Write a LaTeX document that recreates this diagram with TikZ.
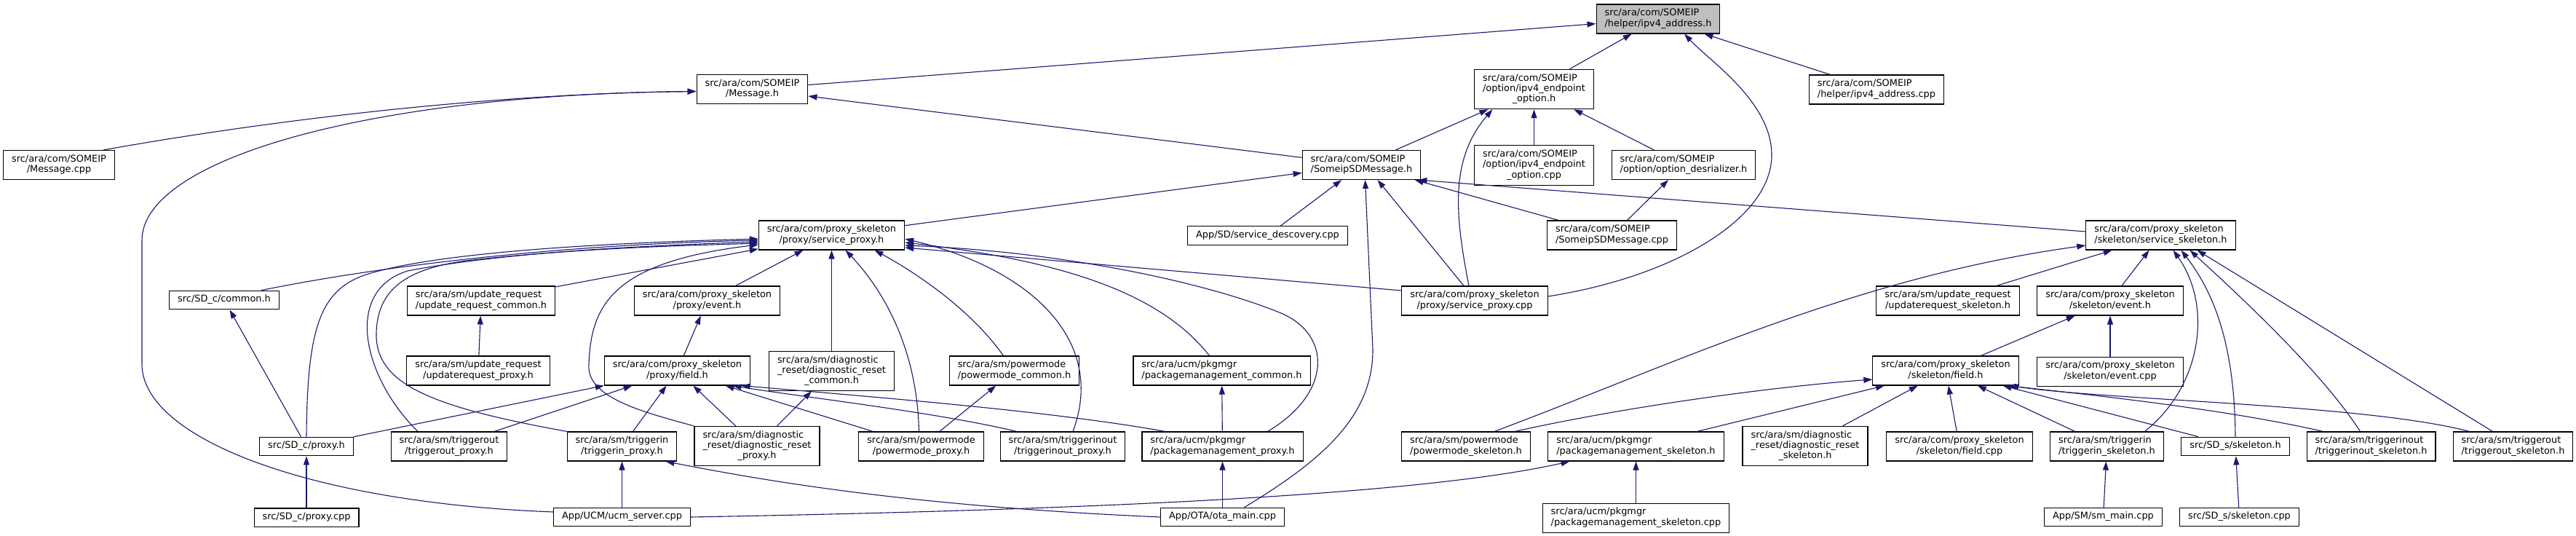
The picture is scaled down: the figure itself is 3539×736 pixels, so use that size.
\documentclass[tikz,border=0pt]{standalone}
\usepackage{fontspec}
\usepackage{tikz}
\usetikzlibrary{positioning,arrows.meta}
\newfontfamily\doxsans{DejaVu Sans}
\newcommand{\doxfont}{\doxsans\fontsize{12.9}{14.3}\selectfont}
\newcommand{\lbl}[2]{\begin{tabular}{@{}l@{}}#1\\\multicolumn{1}{@{}c@{}}{#2}\end{tabular}}
\newcommand{\one}[1]{\begin{tabular}{@{}c@{}}#1\end{tabular}}
\definecolor{edgeblue}{HTML}{191970}
\definecolor{rootgray}{HTML}{BFBFBF}

\begin{document}
\begin{tikzpicture}[x=1pt, y=-1pt, >={Triangle[length=12pt,width=8pt]},
                    hdr/.style={draw=black, line width=1.1pt, fill=white, inner xsep=11.5pt, inner ysep=5.7pt, font=\doxfont},
                    root/.style={hdr, fill=rootgray},
                    dep/.style={->, draw=edgeblue, line width=1.1pt}]
\useasboundingbox[fill=white] (0,0) rectangle (3539,736);
\node[root] (ipv4h) at (2278,26) {\lbl{src/ara/com/SOMEIP}{/helper/ipv4\_address.h}};
\node[hdr] (msgh) at (1033.5,122.5) {\lbl{src/ara/com/SOMEIP}{/Message.h}};
\node[hdr] (epoh) at (2107.5,122.5) {\lbl{src/ara/com/SOMEIP\\/option/ipv4\_endpoint}{\_option.h}};
\node[hdr] (ipv4cpp) at (2578,123) {\lbl{src/ara/com/SOMEIP}{/helper/ipv4\_address.cpp}};
\node[hdr] (msgcpp) at (81,226.5) {\lbl{src/ara/com/SOMEIP}{/Message.cpp}};
\node[hdr] (sdmh) at (1870.5,226.5) {\lbl{src/ara/com/SOMEIP}{/SomeipSDMessage.h}};
\node[hdr, below=49pt of epoh] (epocpp) {\lbl{src/ara/com/SOMEIP\\/option/ipv4\_endpoint}{\_option.cpp}};
\node[hdr] (optdes) at (2313,226.5) {\lbl{src/ara/com/SOMEIP}{/option/option\_desrializer.h}};
\node[hdr] (sprh) at (1142.5,323) {\lbl{src/ara/com/proxy\_skeleton}{/proxy/service\_proxy.h}};
\node[hdr] (sdisc) at (1741.5,323.5) {\one{App/SD/service\_descovery.cpp}};
\node[hdr] (sdmcpp) at (2214.5,323) {\lbl{src/ara/com/SOMEIP}{/SomeipSDMessage.cpp}};
\node[hdr] (sskh) at (2968.5,323) {\lbl{src/ara/com/proxy\_skeleton}{/skeleton/service\_skeleton.h}};
\node[hdr] (sdcommon) at (308,412) {\one{src/SD\_c/common.h}};
\node[hdr] (urcommon) at (661,413) {\lbl{src/ara/sm/update\_request}{/update\_request\_common.h}};
\node[hdr] (pevent) at (971.5,413) {\lbl{src/ara/com/proxy\_skeleton}{/proxy/event.h}};
\node[hdr] (sprcpp) at (2026,413) {\lbl{src/ara/com/proxy\_skeleton}{/proxy/service\_proxy.cpp}};
\node[hdr] (urskel) at (2676,413) {\lbl{src/ara/sm/update\_request}{/updaterequest\_skeleton.h}};
\node[hdr] (sevent) at (2899,413) {\lbl{src/ara/com/proxy\_skeleton}{/skeleton/event.h}};
\node[hdr] (urproxy) at (657,509) {\lbl{src/ara/sm/update\_request}{/updaterequest\_proxy.h}};
\node[hdr] (pfield) at (930.5,509) {\lbl{src/ara/com/proxy\_skeleton}{/proxy/field.h}};
\node[hdr] (drcommon) at (1142.5,509.5) {\lbl{src/ara/sm/diagnostic\\\_reset/diagnostic\_reset}{\_common.h}};
\node[hdr] (pmcommon) at (1393.5,509) {\lbl{src/ara/sm/powermode}{/powermode\_common.h}};
\node[hdr] (pkgcommon) at (1678.5,509) {\lbl{src/ara/ucm/pkgmgr}{/packagemanagement\_common.h}};
\node[hdr] (sfield) at (2673,509) {\lbl{src/ara/com/proxy\_skeleton}{/skeleton/field.h}};
\node[hdr, below=56pt of sevent] (seventcpp) {\lbl{src/ara/com/proxy\_skeleton}{/skeleton/event.cpp}};
\node[hdr] (sdcproxy) at (421,613) {\one{src/SD\_c/proxy.h}};
\node[hdr] (trgoutp) at (617,613) {\lbl{src/ara/sm/triggerout}{/triggerout\_proxy.h}};
\node[hdr] (trginp) at (854.5,613) {\lbl{src/ara/sm/triggerin}{/triggerin\_proxy.h}};
\node[hdr] (drproxy) at (1040,612.5) {\lbl{src/ara/sm/diagnostic\\\_reset/diagnostic\_reset}{\_proxy.h}};
\node[hdr] (pmproxy) at (1265.5,613) {\lbl{src/ara/sm/powermode}{/powermode\_proxy.h}};
\node[hdr] (trginoutp) at (1460,613) {\lbl{src/ara/sm/triggerinout}{/triggerinout\_proxy.h}};
\node[hdr] (pkgproxy) at (1679.5,613) {\lbl{src/ara/ucm/pkgmgr}{/packagemanagement\_proxy.h}};
\node[hdr] (pmskel) at (2014,613) {\lbl{src/ara/sm/powermode}{/powermode\_skeleton.h}};
\node[hdr] (pkgskel) at (2247.5,613) {\lbl{src/ara/ucm/pkgmgr}{/packagemanagement\_skeleton.h}};
\node[hdr] (drskel) at (2480,612.5) {\lbl{src/ara/sm/diagnostic\\\_reset/diagnostic\_reset}{\_skeleton.h}};
\node[hdr] (sfieldcpp) at (2692,613) {\lbl{src/ara/com/proxy\_skeleton}{/skeleton/field.cpp}};
\node[hdr] (trgins) at (2894.5,613) {\lbl{src/ara/sm/triggerin}{/triggerin\_skeleton.h}};
\node[hdr] (sdsskel) at (3071,613) {\one{src/SD\_s/skeleton.h}};
\node[hdr] (trginouts) at (3257.5,613) {\lbl{src/ara/sm/triggerinout}{/triggerinout\_skeleton.h}};
\node[hdr] (trgouts) at (3452.5,613) {\lbl{src/ara/sm/triggerout}{/triggerout\_skeleton.h}};
\node[hdr, below=71pt of sdcproxy] (sdcproxycpp) {\one{src/SD\_c/proxy.cpp}};
\node[hdr] (ucm) at (854.5,710) {\one{App/UCM/ucm\_server.cpp}};
\node[hdr] (ota) at (1679.5,710) {\one{App/OTA/ota\_main.cpp}};
\node[hdr, below=57pt of pkgskel] (pkgskelcpp) {\lbl{src/ara/ucm/pkgmgr}{/packagemanagement\_skeleton.cpp}};
\node[hdr] (smmain) at (2889.5,710) {\one{App/SM/sm\_main.cpp}};
\node[hdr] (sdsskelcpp) at (3076.5,710) {\one{src/SD\_s/skeleton.cpp}};
% upper part
\draw[dep] (msgh) -- (ipv4h);
\draw[dep] ([xshift=61pt]msgcpp.north) .. controls (400,160) and (700,128) .. ([yshift=-3pt]msgh.west);
\draw[dep] ([yshift=7pt]ucm.west) .. controls (420,690) and (195,600) .. (195,500) -- (195,330) .. controls (195,220) and (500,130) .. ([yshift=-3pt]msgh.west);
\draw[dep] (sdmh) -- (msgh);
\draw[dep] (epoh) -- (ipv4h);
\draw[dep] (ipv4cpp) -- (ipv4h);
\draw[dep] ([yshift=6pt]sprcpp.east) .. controls (2300,380) and (2434,300) .. (2434,213) .. controls (2434,140) and (2350,85) .. ([xshift=36pt]ipv4h.south);
\draw[dep] (sdmh) -- (epoh);
\draw[dep] ([xshift=-8pt]sprcpp.north) .. controls (2000,300) and (1990,220) .. ([xshift=-57pt]epoh.south);
\draw[dep] (epocpp) -- (epoh);
\draw[dep] (optdes) -- (epoh);
\draw[dep] (sdmcpp) -- (optdes);
\draw[dep] (sdmcpp) -- (sdmh);
\draw[dep] ([yshift=5pt]sskh.west) -- ([xshift=-4pt]sdmh.south east);
\draw[dep] (sdisc) -- (sdmh);
\draw[dep] (sprh) -- (sdmh);
\draw[dep] ([xshift=-15pt]sprcpp.north) -- ([xshift=22pt]sdmh.south);
\draw[dep] ([xshift=30pt]ota.north) .. controls (1820,630) and (1886,570) .. (1886,480) -- ([xshift=5pt]sdmh.south);
% into service_proxy.h
\draw[dep] ([xshift=51pt]sdcommon.north) .. controls (550,360) and (800,335) .. ([yshift=-7pt]sprh.west);
\draw[dep] (sdcproxy.north) .. controls (422,450) and (440,400) .. (500,378) .. controls (600,345) and (850,333) .. ([yshift=-5pt]sprh.west);
\draw[dep] ([xshift=-43pt]trgoutp.north) .. controls (500,520) and (470,400) .. (560,372) .. controls (700,345) and (900,337) .. ([yshift=-9pt]sprh.west);
\draw[dep] (trginp.north west) .. controls (600,560) and (517,530) .. (517,460) .. controls (517,390) and (570,368) .. (640,358) .. controls (800,340) and (950,337) .. ([yshift=-11pt]sprh.west);
\draw[dep] ([xshift=-87pt]drproxy.north) .. controls (880,565) and (805,545) .. (809,500) .. controls (812,420) and (840,360) .. ([yshift=-13pt]sprh.west);
\draw[dep] (urcommon) -- (sprh);
\draw[dep] (pevent) -- (sprh);
\draw[dep] (drcommon) -- (sprh);
\draw[dep] ([xshift=-3pt]pmproxy.north) .. controls (1260,480) and (1215,400) .. ([xshift=19pt]sprh.south);
\draw[dep] ([xshift=-15pt]pmcommon.north) .. controls (1330,420) and (1250,370) .. ([xshift=59pt]sprh.south);
\draw[dep] ([xshift=14pt]trginoutp.north) .. controls (1520,470) and (1420,370) .. ([yshift=-5pt]sprh.east);
\draw[dep] ([xshift=-17pt]pkgcommon.north) .. controls (1600,410) and (1480,360) .. ([yshift=-10pt]sprh.east);
\draw[dep] ([xshift=62pt]pkgproxy.north) .. controls (1830,540) and (1830,460) .. (1760,430) .. controls (1650,385) and (1450,345) .. ([yshift=-14pt]sprh.east);
\draw[dep] ([yshift=14pt]sprcpp.west) -- ([yshift=-17pt]sprh.east);
% proxy side
\draw[dep] (pfield) -- (pevent);
\draw[dep] (urproxy) -- (urcommon);
\draw[dep] (sdcproxy) -- (sdcommon);
\draw[dep] (sdcproxy) -- (pfield);
\draw[dep] (trgoutp) -- (pfield);
\draw[dep] (trginp) -- (pfield);
\draw[dep] (ucm) -- (trginp);
\draw[dep] (ota.west) .. controls (1250,695) and (1050,660) .. ([xshift=60pt]trginp.south);
\draw[dep] (ucm.east) .. controls (1500,700) and (1950,680) .. ([xshift=-91pt]pkgskel.south);
\draw[dep] (drproxy) -- (pfield);
\draw[dep] (drproxy) -- (drcommon);
\draw[dep] (pmproxy) -- (pfield);
\draw[dep] (pmproxy) -- (pmcommon);
\draw[dep] ([xshift=-63pt]trginoutp.north) .. controls (1280,565) and (1100,545) .. ([xshift=76pt]pfield.south);
\draw[dep] ([xshift=-79pt]pkgproxy.north) .. controls (1450,565) and (1200,545) .. ([xshift=88pt]pfield.south);
\draw[dep] (pkgproxy) -- (pkgcommon);
\draw[dep] (ota) -- (pkgproxy);
\draw[dep] (sdcproxycpp) -- (sdcproxy);
% skeleton side
\draw[dep] ([xshift=39pt]pmskel.north) .. controls (2300,500) and (2550,380) .. ([yshift=-14pt]sskh.west);
\draw[dep] ([xshift=67pt]pmskel.north) .. controls (2250,555) and (2450,530) .. ([yshift=-12pt]sfield.west);
\draw[dep] (pkgskel) -- (sfield);
\draw[dep] (drskel) -- (sfield);
\draw[dep] (pkgskelcpp) -- (pkgskel);
\draw[dep] (urskel) -- (sskh);
\draw[dep] (sevent) -- (sskh);
\draw[dep] (sfield) -- (sevent);
\draw[dep] (seventcpp) -- (sevent);
\draw[dep] ([xshift=52pt]trgins.north) .. controls (3025,530) and (3040,420) .. ([xshift=17pt]sskh.south);
\draw[dep] (sdsskel.north) .. controls (3070,470) and (3040,400) .. ([xshift=28pt]sskh.south);
\draw[dep] ([xshift=-15pt]trginouts.north) .. controls (3190,510) and (3070,400) .. ([xshift=40pt]sskh.south);
\draw[dep] ([xshift=-28pt]trgouts.north) -- ([xshift=50pt]sskh.south);
\draw[dep] (sfieldcpp) -- (sfield);
\draw[dep] (trgins) -- (sfield);
\draw[dep] (sdsskel) -- (sfield);
\draw[dep] ([xshift=-66pt]trginouts.north) .. controls (3050,560) and (2850,540) .. ([xshift=85pt]sfield.south);
\draw[dep] ([xshift=-60pt]trgouts.north) .. controls (3250,555) and (2900,550) .. ([xshift=88pt]sfield.south);
\draw[dep] (smmain) -- (trgins);
\draw[dep] (sdsskelcpp) -- (sdsskel);
\end{tikzpicture}
\end{document}
